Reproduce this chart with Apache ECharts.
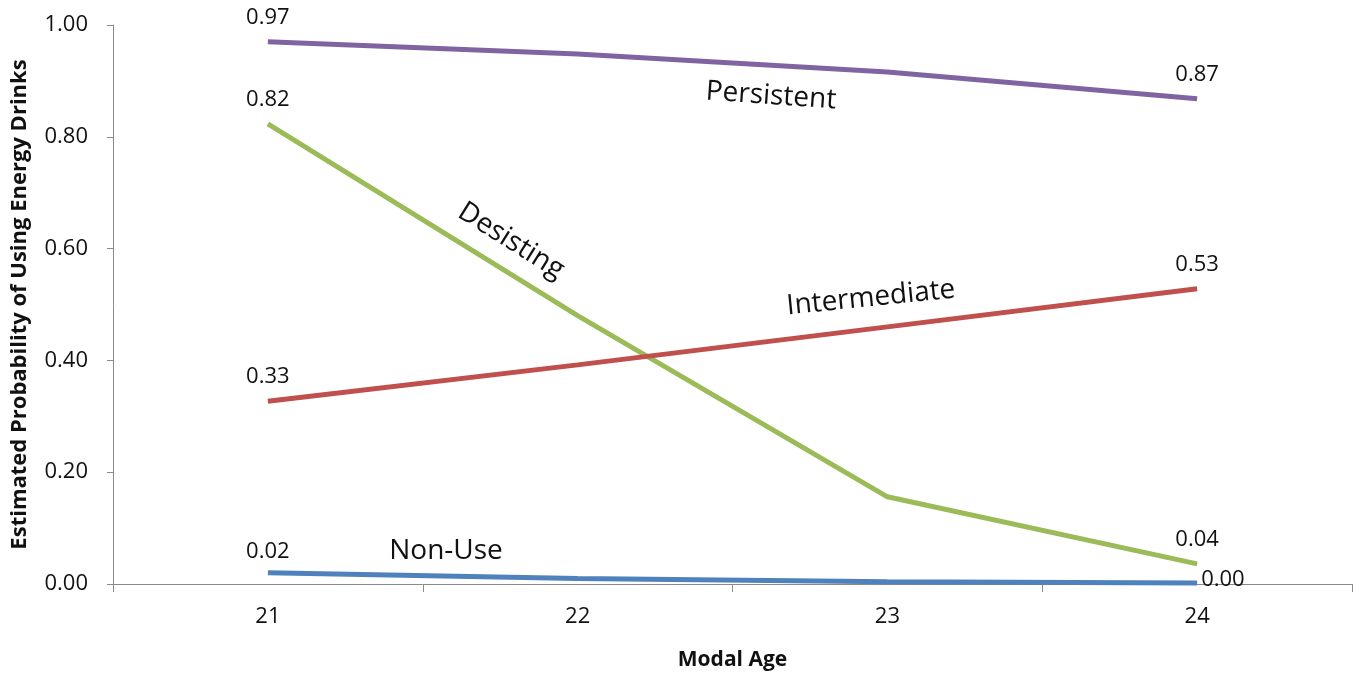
<!DOCTYPE html>
<html>
<head>
<meta charset="UTF-8">
<title>Energy drink use by modal age</title>
<style>
  html, body { margin: 0; padding: 0; background: #fff; }
  #container { width: 1360px; height: 675px; }
</style>
</head>
<body>
<div id="container"></div>
<script src="https://cdn.jsdelivr.net/npm/echarts@6/dist/echarts.min.js"></script>
<script>
// modal age categories
var ages = ['21', '22', '23', '24'];

// estimated probability per trajectory group
var persistent   = [0.970, 0.948, 0.916, 0.868];
var desisting    = [0.823, 0.480, 0.156, 0.036];
var intermediate = [0.327, 0.392, 0.460, 0.528];
var nonUse       = [0.020, 0.010, 0.004, 0.002];

var yTicks = [0, 0.2, 0.4, 0.6, 0.8, 1.0];

var FONT = '"Open Sans", "Noto Sans", sans-serif';

// only the end points carry a value label
function endLabel() {
  return {
    show: true,
    position: 'top',
    distance: 13,
    fontFamily: FONT,
    fontSize: 22,
    color: '#111',
    formatter: function (p) {
      if (p.dataIndex === 0 || p.dataIndex === 3) return p.value.toFixed(2);
      return '';
    }
  };
}

function line(name, data, color) {
  return {
    name: name,
    type: 'line',
    data: data,
    symbol: 'circle',
    symbolSize: 0,
    showSymbol: true,
    lineStyle: { color: color, width: 5 },
    itemStyle: { color: color },
    label: endLabel(),
    animation: false
  };
}

var nonUseSeries = line('Non-Use', nonUse, '#4F81BD');
nonUseSeries.label.distance = 10;
nonUseSeries.label.formatter = function (p) {
  if (p.dataIndex === 0) return p.value.toFixed(2);
  return '';
};
// the last point of Non-Use is labelled on the right
nonUseSeries.data = nonUse.map(function (v, i) {
  if (i === 3) {
    return { value: v, label: { show: true, position: 'right', distance: 4, offset: [0, -3], formatter: function (p) { return p.value.toFixed(2); } } };
  }
  return v;
});

var myChart = echarts.init(document.getElementById('container'));

var option = {
  backgroundColor: '#fff',
  animation: false,
  grid: { left: 113, right: 8, top: 25, bottom: 91, containLabel: false, outerBoundsMode: 'none' },
  xAxis: {
    type: 'category',
    data: ages,
    boundaryGap: true,
    name: 'Modal Age',
    nameLocation: 'middle',
    nameGap: 66,
    nameTextStyle: { fontFamily: FONT, fontSize: 21, fontWeight: 'bold', color: '#111' },
    axisLine: { lineStyle: { color: '#8a8a8a', width: 1 } },
    axisTick: { show: true, alignWithLabel: false, length: 8, lineStyle: { color: '#8a8a8a' } },
    axisLabel: { fontFamily: FONT, fontSize: 22, color: '#111', margin: 22 },
    splitLine: { show: false }
  },
  yAxis: {
    type: 'value',
    min: yTicks[0],
    max: yTicks[yTicks.length - 1],
    interval: 0.2,
    name: 'Estimated Probability of Using Energy Drinks',
    nameLocation: 'middle',
    nameGap: 82,
    nameTextStyle: { fontFamily: FONT, fontSize: 22, fontWeight: 'bold', color: '#111' },
    axisLine: { show: true, lineStyle: { color: '#8a8a8a', width: 1 } },
    axisTick: { show: true, length: 6, lineStyle: { color: '#8a8a8a' } },
    axisLabel: {
      fontFamily: FONT, fontSize: 22, color: '#111', margin: 25,
      formatter: function (v) { return v.toFixed(2); }
    },
    splitLine: { show: false }
  },
  series: [
    line('Persistent', persistent, '#8064A2'),
    line('Desisting', desisting, '#9BBB59'),
    line('Intermediate', intermediate, '#C0504D'),
    nonUseSeries
  ],
  // group names written along the lines
  graphic: [
    { type: 'text', x: 771, y: 96, rotation: -0.07,
      style: { text: 'Persistent', fontFamily: FONT, fontSize: 28, fill: '#111', align: 'center', verticalAlign: 'middle' } },
    { type: 'text', x: 511, y: 241, rotation: -0.56,
      style: { text: 'Desisting', fontFamily: FONT, fontSize: 28, fill: '#111', align: 'center', verticalAlign: 'middle' } },
    { type: 'text', x: 871, y: 298, rotation: 0.1,
      style: { text: 'Intermediate', fontFamily: FONT, fontSize: 28, fill: '#111', align: 'center', verticalAlign: 'middle' } },
    { type: 'text', x: 446, y: 551,
      style: { text: 'Non-Use', fontFamily: FONT, fontSize: 28, fill: '#111', align: 'center', verticalAlign: 'middle' } }
  ]
};

myChart.setOption(option);
</script>
</body>
</html>
